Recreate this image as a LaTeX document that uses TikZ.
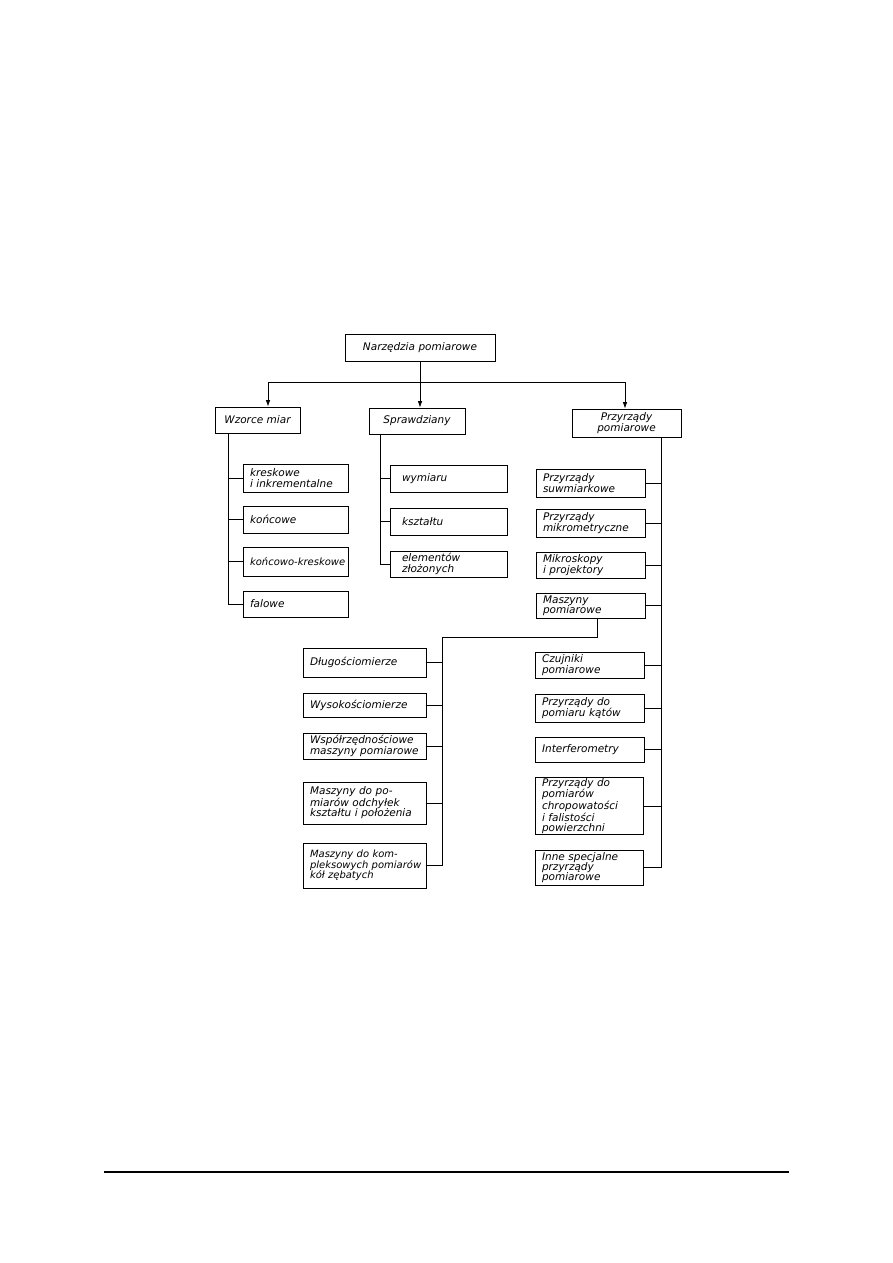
\documentclass[tikz,border=0pt]{standalone}
\usepackage{fontspec}
\setmainfont{DejaVu Sans}
\usetikzlibrary{arrows.meta}
\tikzset{
  bx/.style={draw, line width=0.9pt, inner xsep=7pt, inner ysep=1pt, align=left,
    font=\itshape\fontsize{10.5}{10.4}\selectfont,
    execute at begin node={\hyphenpenalty=10000 \exhyphenpenalty=10000 \hbadness=10000 \hfuzz=20pt}},
  narrow/.style={inner xsep=4pt, font=\itshape\fontsize{10}{10.4}\selectfont},
  ln/.style={line width=0.7pt},
  arr/.style={ln, -{Latex[length=6.5pt,width=4.5pt]}},
}
\newcommand\mybox[7][]{%
  \pgfmathsetmacro\bw{#5-#3}%
  \pgfmathsetmacro\bh{#6-#4}%
  \pgfmathsetmacro\tw{#5-#3-14}%
  \node[bx, minimum width=\bw pt, minimum height=\bh pt, text width=\tw pt, #1]
    (#2) at ({(#3+#5)/2},{(#4+#6)/2}) {#7};}
\begin{document}
\begin{tikzpicture}[x=1pt,y=-1pt]
\path[use as bounding box] (0,0) rectangle (893,1263);

% top level
\mybox[align=center]{top}{345}{334}{495}{361}{Narzędzia pomiarowe}
\mybox[align=center]{wz}{215}{407}{300}{433}{Wzorce miar}
\mybox[align=center]{spr}{369}{408}{465}{434}{Sprawdziany}
\mybox[align=center]{prz}{572}{409}{681}{437}{Przyrządy\\pomiarowe}

% Wzorce miar children
\mybox{k1}{243}{464}{348}{492}{kreskowe\\\mbox{i inkrementalne}}
\mybox{k2}{243}{506}{348}{533}{końcowe}
\mybox[narrow]{k3}{243}{547}{348}{576}{\mbox{końcowo-kreskowe}}
\mybox{k4}{243}{591}{348}{617}{falowe}

% Sprawdziany children
\mybox[inner xsep=12pt]{s1}{395}{465}{502}{492}{wymiaru}
\mybox[inner xsep=12pt]{s2}{395}{508}{502}{535}{kształtu}
\mybox[inner xsep=12pt]{s3}{395}{551}{502}{577}{elementów\\złożonych}

% Przyrzady children
\mybox{p1}{536}{469}{645}{497}{Przyrządy\\suwmiarkowe}
\mybox{p2}{536}{509}{645}{537}{Przyrządy\\\mbox{mikrometryczne}}
\mybox{p3}{536}{552}{645}{578}{Mikroskopy\\i projektory}
\mybox{p4}{536}{593}{645}{618}{Maszyny\\pomiarowe}
\mybox{p5}{535}{652}{644}{678}{Czujniki\\pomiarowe}
\mybox{p6}{535}{694}{644}{722}{Przyrządy do\\\mbox{pomiaru kątów}}
\mybox{p7}{535}{737}{644}{762}{Interferometry}
\mybox{p8}{535}{778}{643}{834}{Przyrządy do\\pomiarów\\chropowatości\\i falistości\\powierzchni}
\mybox{p9}{535}{850}{643}{885}{\mbox{Inne specjalne}\\przyrządy\\pomiarowe}

% Maszyny pomiarowe children
\mybox{m1}{303}{648}{426}{677}{Długościomierze}
\mybox{m2}{303}{693}{426}{717}{Wysokościomierze}
\mybox[inner xsep=6pt]{m3}{303}{733}{426}{759}{\mbox{Współrzędnościowe}\\\mbox{maszyny pomiarowe}}
\mybox[inner xsep=6pt]{m4}{303}{782}{426}{824}{\mbox{Maszyny do po-}\\\mbox{miarów odchyłek}\\\mbox{kształtu i położenia}}
\mybox[narrow]{m5}{303}{843}{426}{888}{\mbox{Maszyny do kom-}\\\mbox{pleksowych pomiarów}\\\mbox{kół zębatych}}

% top connectors
\coordinate (aL) at (268,382);
\coordinate (aR) at (625,382);
\coordinate (aM) at (top.south |- aL);
\draw[ln] (top.south) -- (aM);
\draw[ln] (aL) -- (aR);
\draw[arr] (aL) -- (aL |- wz.north);
\draw[arr] (aM) -- (aM |- spr.north);
\draw[arr] (aR) -- (aR |- prz.north);

% Wzorce trunk
\coordinate (wT) at (228,433);
\draw[ln] (wT) |- (k4.west);
\foreach \n in {k1,k2,k3} \draw[ln] (\n.west) -- (\n.west -| wT);

% Sprawdziany trunk
\coordinate (sT) at (380,434);
\draw[ln] (sT) |- (s3.west);
\foreach \n in {s1,s2} \draw[ln] (\n.west) -- (\n.west -| sT);

% Przyrzady trunk
\coordinate (pT) at (661,437);
\draw[ln] (pT) |- (p9.east);
\foreach \n in {p1,p2,p3,p4,p5,p6,p7,p8} \draw[ln] (\n.east) -- (\n.east -| pT);

% Maszyny pomiarowe trunk
\coordinate (mx) at (597,637);
\coordinate (mj) at (442,637);
\draw[ln] (p4.south -| mx) -- (mx) -- (mj) |- (m5.east);
\foreach \n in {m1,m2,m3,m4} \draw[ln] (\n.east) -- (\n.east -| mj);

% page rule
\coordinate (r1) at (104,1172);
\coordinate (r2) at (789,1172);
\draw[line width=1.1pt] (r1) -- (r2);
\end{tikzpicture}
\end{document}
